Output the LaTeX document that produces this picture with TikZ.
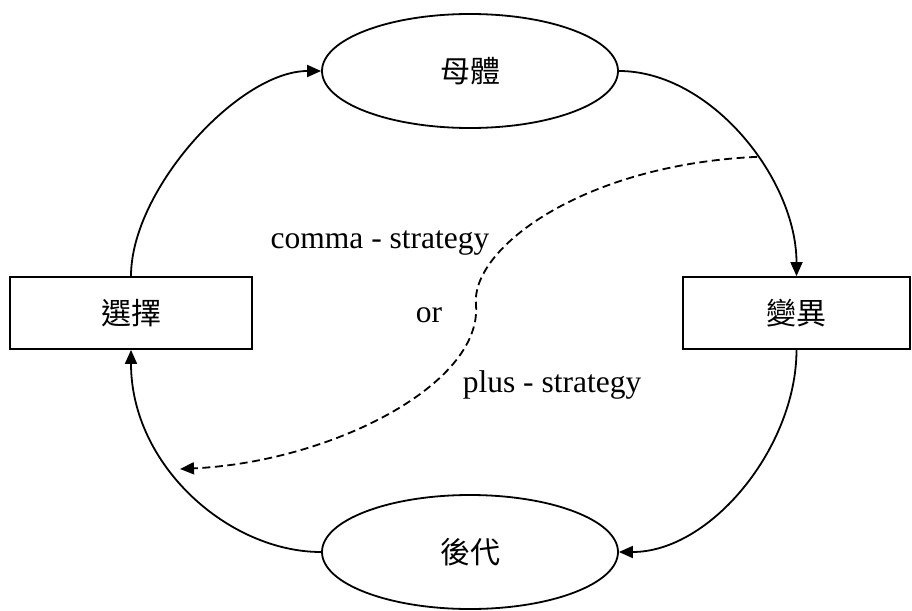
\documentclass[tikz,border=0pt]{standalone}
\usepackage{fontspec}
\setmainfont{Liberation Serif}
\newfontfamily\cjk{Noto Sans CJK TC}
\usetikzlibrary{arrows.meta,shapes.geometric}
\begin{document}
\begin{tikzpicture}[x=1pt,y=-1pt,
  every node/.style={inner sep=0pt},
  ell/.style={draw,ellipse,line width=1.8pt,minimum width=296pt,minimum height=114pt,font=\cjk\fontsize{30}{36}\selectfont},
  box/.style={draw,rectangle,line width=1.8pt,minimum height=72pt,font=\cjk\fontsize{30}{36}\selectfont},
  conn/.style={line width=1.8pt,-{Triangle[length=14pt,width=12pt]}},
  dconn/.style={line width=1.8pt,dash pattern=on 8pt off 4.5pt,-{Triangle[length=14pt,width=12pt]}},
  lbl/.style={anchor=base,font=\fontsize{31.5}{36}\selectfont}]
\useasboundingbox (0,0) rectangle (912,610);
\node[ell] (T) at (470,71) {母體};
\node[ell] (B) at (470,552) {後代};
\node[box,minimum width=242pt] (L) at (131,313) {選擇};
\node[box,minimum width=227pt] (R) at (796.5,313) {變異};
\draw[conn] (L.north) .. controls +(0,-87) and +(-82,0) .. (T.west);
\draw[conn] (T.east) .. controls +(92,0) and +(0,-97) .. coordinate[pos=0.58] (ds) (R.north);
\draw[conn] (R.south) .. controls +(0,97) and +(92,0) .. (B.east);
\draw[conn] (B.west) .. controls +(-92,0) and +(0,116) .. (L.south);
\coordinate (de) at (180,469);
\coordinate (dm) at (476,305);
\draw[dconn] (ds) .. controls (580,165) and (470,250) .. (dm) .. controls (482,385) and (330,462) .. (de);
\node[lbl] (c) at (380,248) {comma - strategy};
\node[lbl] (o) at (429,322) {or};
\node[lbl] (p) at (552,392) {plus - strategy};
\end{tikzpicture}
\end{document}
